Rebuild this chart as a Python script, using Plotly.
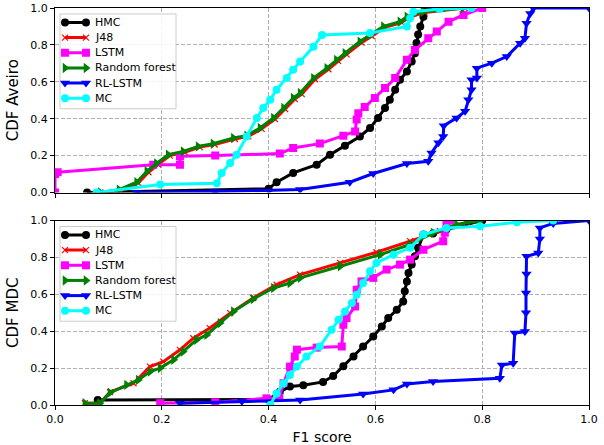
import plotly.graph_objects as go
from plotly.subplots import make_subplots

series_names = ["HMC", "J48", "LSTM", "Random forest", "RL-LSTM", "MC"]
x_ticks = [0.0, 0.2, 0.4, 0.6, 0.8, 1.0]
y_ticks = [0.0, 0.2, 0.4, 0.6, 0.8, 1.0]

# ---- Aveiro (top) ----
hmc_a_x = [0.06, 0.40, 0.415, 0.446, 0.49, 0.515, 0.543, 0.571, 0.59, 0.605, 0.618, 0.627, 0.637, 0.646, 0.659, 0.668, 0.674, 0.677, 0.68, 0.684, 0.69, 0.693, 0.70]
hmc_a_y = [0.0, 0.02, 0.056, 0.106, 0.151, 0.205, 0.254, 0.304, 0.35, 0.404, 0.458, 0.503, 0.557, 0.611, 0.656, 0.71, 0.755, 0.81, 0.856, 0.9, 0.953, 0.99, 1.0]
j48_a_x = [0.085, 0.123, 0.156, 0.175, 0.193, 0.215, 0.243, 0.271, 0.299, 0.337, 0.362, 0.387, 0.412, 0.431, 0.449, 0.462, 0.487, 0.512, 0.530, 0.546, 0.574, 0.593, 0.618, 0.649, 0.662, 0.692, 0.767]
j48_a_y = [0.0, 0.012, 0.052, 0.11, 0.152, 0.2, 0.218, 0.246, 0.26, 0.29, 0.304, 0.345, 0.398, 0.452, 0.506, 0.533, 0.614, 0.668, 0.713, 0.749, 0.812, 0.848, 0.895, 0.921, 0.948, 0.976, 1.0]
lstm_a_x = [0.0, 0.0, 0.005, 0.184, 0.234, 0.234, 0.30, 0.421, 0.446, 0.496, 0.54, 0.562, 0.565, 0.568, 0.58, 0.599, 0.618, 0.637, 0.659, 0.674, 0.699, 0.715, 0.737, 0.765, 0.80]
lstm_a_y = [0.0, 0.1, 0.11, 0.151, 0.151, 0.196, 0.2, 0.211, 0.241, 0.265, 0.308, 0.331, 0.395, 0.43, 0.463, 0.512, 0.566, 0.62, 0.719, 0.773, 0.836, 0.872, 0.926, 0.962, 1.0]
rf_a_x = [0.085, 0.12, 0.153, 0.172, 0.19, 0.212, 0.24, 0.268, 0.296, 0.334, 0.359, 0.384, 0.409, 0.428, 0.446, 0.459, 0.484, 0.509, 0.527, 0.543, 0.571, 0.59, 0.615, 0.646, 0.659, 0.689, 0.764]
rf_a_y = [0.0, 0.015, 0.056, 0.115, 0.157, 0.205, 0.222, 0.25, 0.264, 0.295, 0.308, 0.35, 0.404, 0.458, 0.512, 0.539, 0.62, 0.674, 0.719, 0.755, 0.818, 0.854, 0.9, 0.926, 0.953, 0.98, 1.0]
rl_a_x = [0.153, 0.30, 0.459, 0.552, 0.596, 0.659, 0.699, 0.705, 0.718, 0.727, 0.728, 0.752, 0.768, 0.774, 0.78, 0.78, 0.79, 0.79, 0.818, 0.846, 0.871, 0.88, 0.883, 0.89, 0.896, 1.0]
rl_a_y = [0.0, 0.005, 0.016, 0.056, 0.103, 0.157, 0.169, 0.214, 0.269, 0.304, 0.362, 0.404, 0.44, 0.503, 0.557, 0.611, 0.62, 0.674, 0.701, 0.737, 0.809, 0.836, 0.917, 0.97, 1.0, 1.0]
mc_a_x = [0.078, 0.197, 0.303, 0.312, 0.328, 0.34, 0.359, 0.378, 0.39, 0.403, 0.415, 0.434, 0.446, 0.459, 0.484, 0.50, 0.59, 0.659, 0.665, 0.671, 0.72, 0.78]
mc_a_y = [0.0, 0.043, 0.05, 0.106, 0.16, 0.205, 0.304, 0.404, 0.458, 0.503, 0.557, 0.62, 0.665, 0.71, 0.79, 0.854, 0.865, 0.9, 0.944, 0.98, 0.995, 1.0]

# ---- MDC (bottom) ----
hmc_m_x = [0.08, 0.40, 0.421, 0.44, 0.465, 0.502, 0.521, 0.54, 0.559, 0.577, 0.596, 0.612, 0.624, 0.64, 0.652, 0.655, 0.659, 0.662, 0.668, 0.674, 0.68, 0.69, 0.708, 0.733, 0.80]
hmc_m_y = [0.027, 0.03, 0.072, 0.1, 0.107, 0.125, 0.157, 0.21, 0.263, 0.317, 0.371, 0.426, 0.471, 0.516, 0.561, 0.616, 0.67, 0.716, 0.761, 0.806, 0.852, 0.924, 0.93, 0.951, 1.0]
j48_m_x = [0.056, 0.084, 0.103, 0.147, 0.178, 0.203, 0.234, 0.259, 0.29, 0.328, 0.371, 0.415, 0.459, 0.534, 0.602, 0.665, 0.721, 0.771, 0.78]
j48_m_y = [0.01, 0.01, 0.07, 0.118, 0.208, 0.235, 0.299, 0.362, 0.417, 0.498, 0.58, 0.652, 0.707, 0.77, 0.828, 0.888, 0.942, 0.991, 1.0]
lstm_m_x = [0.197, 0.30, 0.396, 0.42, 0.428, 0.44, 0.449, 0.453, 0.49, 0.537, 0.54, 0.546, 0.562, 0.565, 0.574, 0.596, 0.621, 0.646, 0.665, 0.69, 0.727, 0.73, 0.733, 0.74]
lstm_m_y = [0.01, 0.015, 0.036, 0.04, 0.118, 0.208, 0.263, 0.30, 0.311, 0.317, 0.435, 0.471, 0.534, 0.625, 0.67, 0.689, 0.734, 0.761, 0.788, 0.842, 0.888, 0.933, 0.978, 1.0]
rf_m_x = [0.056, 0.084, 0.103, 0.134, 0.156, 0.178, 0.197, 0.222, 0.24, 0.265, 0.284, 0.309, 0.334, 0.371, 0.409, 0.44, 0.459, 0.534, 0.609, 0.665, 0.708, 0.752, 0.796]
rf_m_y = [0.01, 0.01, 0.067, 0.109, 0.136, 0.181, 0.2, 0.245, 0.29, 0.353, 0.38, 0.444, 0.507, 0.574, 0.634, 0.661, 0.689, 0.752, 0.815, 0.87, 0.933, 0.978, 1.0]
rl_m_x = [0.234, 0.35, 0.459, 0.577, 0.634, 0.659, 0.708, 0.833, 0.837, 0.858, 0.861, 0.88, 0.882, 0.882, 0.883, 0.883, 0.905, 0.908, 0.908, 0.933, 1.0]
rl_m_y = [0.01, 0.02, 0.027, 0.06, 0.082, 0.114, 0.127, 0.145, 0.217, 0.226, 0.39, 0.398, 0.5, 0.607, 0.71, 0.806, 0.824, 0.9, 0.96, 0.984, 1.0]
mc_m_x = [0.403, 0.415, 0.428, 0.44, 0.453, 0.471, 0.496, 0.518, 0.531, 0.543, 0.556, 0.565, 0.577, 0.59, 0.602, 0.634, 0.665, 0.69, 0.733, 0.796, 0.865, 0.933]
mc_m_y = [0.0, 0.063, 0.118, 0.163, 0.208, 0.263, 0.317, 0.408, 0.462, 0.507, 0.553, 0.598, 0.661, 0.725, 0.77, 0.815, 0.852, 0.924, 0.96, 0.969, 0.99, 1.0]

aveiro = [(hmc_a_x, hmc_a_y), (j48_a_x, j48_a_y), (lstm_a_x, lstm_a_y),
          (rf_a_x, rf_a_y), (rl_a_x, rl_a_y), (mc_a_x, mc_a_y)]
mdc = [(hmc_m_x, hmc_m_y), (j48_m_x, j48_m_y), (lstm_m_x, lstm_m_y),
       (rf_m_x, rf_m_y), (rl_m_x, rl_m_y), (mc_m_x, mc_m_y)]

colors = ["#000000", "#ff0000", "#ff00ff", "#008000", "#0000ff", "#00ffff"]
symbols = ["circle", "x-thin", "square", "triangle-right", "triangle-down", "circle"]
msizes = [8, 6, 8, 9, 9, 8]

# layout geometry (pixels)
W, H = 604, 445
ML, MR, MT, MB = 55, 15, 8, 40
PW = W - ML - MR
PANEL_H = 185
GAP = 28
PH = H - MT - MB

fig = make_subplots(rows=2, cols=1, shared_xaxes=False, vertical_spacing=GAP / PH)


def marker_for(i):
    mk = dict(symbol=symbols[i], size=msizes[i], color=colors[i])
    if symbols[i] == "x-thin":
        mk["line"] = dict(color=colors[i], width=1.2)
    return mk


# legend geometry (pixel offsets relative to panel top-left)
BOX_L, BOX_R, BOX_T, BOX_B = 5, 121, 6, 101
ROW0, ROW_STEP = 14.5, 15.2
GL_L, GL_R, TXT_X = 10, 31, 38

for row, data in [(1, aveiro), (2, mdc)]:
    for i, (xs, ys) in enumerate(data):
        fig.add_trace(go.Scatter(
            x=xs, y=ys, mode="lines+markers", name=series_names[i],
            line=dict(color=colors[i], width=3), marker=marker_for(i),
            showlegend=False), row=row, col=1)

    bx0, bx1 = BOX_L / PW, BOX_R / PW
    by0, by1 = 1 - BOX_B / PANEL_H, 1 - BOX_T / PANEL_H
    fig.add_trace(go.Scatter(
        x=[bx0, bx1, bx1, bx0, bx0], y=[by0, by0, by1, by1, by0],
        mode="lines", fill="toself", fillcolor="rgba(255,255,255,0.85)",
        line=dict(color="#cccccc", width=1), hoverinfo="skip", showlegend=False),
        row=row, col=1)
    for i in range(len(series_names)):
        yy = 1 - (ROW0 + ROW_STEP * i) / PANEL_H
        fig.add_trace(go.Scatter(
            x=[GL_L / PW, GL_R / PW], y=[yy, yy], mode="lines+markers",
            line=dict(color=colors[i], width=3), marker=marker_for(i),
            hoverinfo="skip", showlegend=False), row=row, col=1)
        xref = "x" if row == 1 else "x2"
        yref = "y" if row == 1 else "y2"
        fig.add_annotation(x=TXT_X / PW, y=yy, xref=xref, yref=yref, text=series_names[i],
                           showarrow=False, xanchor="left", yanchor="middle",
                           font=dict(family="DejaVu Sans", size=11, color="black"))

axis_common = dict(range=[0, 1], showline=True, linecolor="black", linewidth=1,
                   mirror=True, ticks="outside", ticklen=4, tickcolor="black",
                   showgrid=True, gridcolor="#b0b0b0", griddash="4px,2px", gridwidth=1,
                   zeroline=False, automargin=False,
                   tickfont=dict(family="DejaVu Sans", size=11, color="black"))

fig.update_xaxes(**axis_common, tickvals=x_ticks, tickformat=".1f")
fig.update_yaxes(**axis_common, tickvals=y_ticks, tickformat=".1f")
fig.update_xaxes(showticklabels=False, row=1, col=1)
fig.update_xaxes(title=dict(text="F1 score", font=dict(family="DejaVu Sans", size=14, color="black"), standoff=6), row=2, col=1)
fig.update_yaxes(title=dict(text="CDF Aveiro", font=dict(family="DejaVu Sans", size=15, color="black"), standoff=8), row=1, col=1)
fig.update_yaxes(title=dict(text="CDF MDC", font=dict(family="DejaVu Sans", size=15, color="black"), standoff=8), row=2, col=1)

fig.update_layout(
    width=W, height=H, margin=dict(l=ML, r=MR, t=MT, b=MB),
    plot_bgcolor="white", paper_bgcolor="white", showlegend=False,
)

fig.write_html("out.html")
